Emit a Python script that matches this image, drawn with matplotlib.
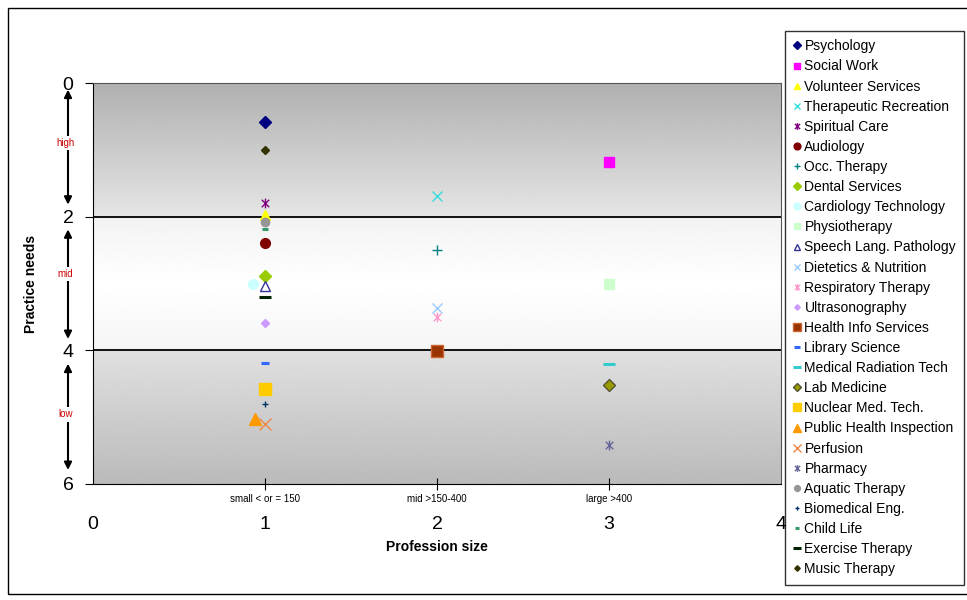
import numpy as np
import matplotlib
matplotlib.use("Agg")
import matplotlib.pyplot as plt
from matplotlib.path import Path
from matplotlib.patches import Rectangle

plt.rcParams['font.family'] = ['Liberation Sans', 'DejaVu Sans']

# --- data ---
professions = ['Psychology', 'Social Work', 'Volunteer Services', 'Therapeutic Recreation',
               'Spiritual Care', 'Audiology', 'Occ. Therapy', 'Dental Services',
               'Cardiology Technology', 'Physiotherapy', 'Speech Lang. Pathology',
               'Dietetics & Nutrition', 'Respiratory Therapy', 'Ultrasonography',
               'Health Info Services', 'Library Science', 'Medical Radiation Tech',
               'Lab Medicine', 'Nuclear Med. Tech.', 'Public Health Inspection',
               'Perfusion', 'Pharmacy', 'Aquatic Therapy', 'Biomedical Eng.',
               'Child Life', 'Exercise Therapy', 'Music Therapy']
size_x = [1, 3, 1, 2, 1, 1, 2, 1, 0.93, 3, 1, 2, 2, 1, 2, 1, 3, 3, 1, 0.94, 1, 3, 1, 1, 1, 1, 1]
needs_y = [0.58, 1.18, 1.98, 1.69, 1.8, 2.4, 2.5, 2.89, 3.0, 3.0, 3.04, 3.37, 3.5, 3.59,
           4.01, 4.19, 4.2, 4.52, 4.58, 5.03, 5.1, 5.42, 2.08, 4.81, 2.19, 3.2, 1.0]
size_labels = ['small < or = 150', 'mid >150-400', 'large >400']
need_levels = ['high', 'mid', 'low']

# excel-ish asterisk: x plus a vertical bar
star = Path([(-1, -1), (1, 1), (-1, 1), (1, -1), (0, -1.3), (0, 1.3)],
            [Path.MOVETO, Path.LINETO, Path.MOVETO, Path.LINETO, Path.MOVETO, Path.LINETO])

# marker, face colour, edge colour, size
styles = [
    ('D', '#000080', '#000080', 6),
    ('s', '#ff00ff', '#ff00ff', 7),
    ('^', '#ffff00', '#ffff00', 7),
    ('x', '#33dddd', '#33dddd', 7),
    (star, '#800080', '#800080', 7),
    ('o', '#800000', '#800000', 7),
    ('+', '#008080', '#008080', 7),
    ('D', '#99cc00', '#99cc00', 6),
    ('o', '#ccffff', '#ccffff', 7),
    ('s', '#ccffcc', '#ccffcc', 7),
    ('^', 'white', '#333399', 7),
    ('x', '#99ccff', '#99ccff', 7),
    (star, '#ff99cc', '#ff99cc', 7),
    ('D', '#cc99ff', '#cc99ff', 4),
    ('s', '#993300', '#cc6633', 9),
    ('_', '#3366ff', '#3366ff', 6),
    ('_', '#33cccc', '#33cccc', 9),
    ('D', '#999900', '#555533', 6),
    ('s', '#ffcc00', '#ffcc00', 8),
    ('^', '#ff9900', '#ff9900', 8),
    ('x', '#ee8844', '#ee8844', 8),
    (star, '#666699', '#666699', 7),
    ('o', '#969696', '#969696', 6),
    ('+', '#003366', '#003366', 5),
    ('_', '#339966', '#339966', 5),
    ('_', '#002200', '#002200', 8),
    ('D', '#333300', '#333300', 4),
]

fig = plt.figure(figsize=(9.67, 6), dpi=100)
ax = fig.add_axes([93 / 967, 1 - 484 / 600, 688 / 967, 401 / 600])

# gradient background: gray -> white -> gray, banded at 2 and 4
yy = np.linspace(0, 6, 600)
prof = np.interp(yy, [0, 1.999, 2.001, 3, 3.999, 4.001, 6],
                 [0.69, 0.90, 0.95, 1.0, 0.96, 0.88, 0.73])
ax.imshow(prof[:, None], cmap='gray', vmin=0, vmax=1, extent=[0, 4, 6, 0],
          aspect='auto', zorder=0, interpolation='bilinear')

for k in range(len(professions)):
    m, fc, ec, ms = styles[k]
    lw = 2.2 if m == '_' else 1.0
    ax.plot(size_x[k], needs_y[k], linestyle='none', marker=m, markersize=ms,
            markerfacecolor=fc, markeredgecolor=ec, markeredgewidth=lw,
            label=professions[k], zorder=3)

ax.axhline(2, color='black', lw=1.3, zorder=2)
ax.axhline(4, color='black', lw=1.3, zorder=2)

ax.set_xlim(0, 4)
ax.set_ylim(6, 0)
ax.set_yticks([0, 2, 4, 6])
ax.set_yticklabels(['0', '2', '4', '6'], fontsize=14)
ax.tick_params(axis='y', direction='out', length=6, pad=8)
ax.set_xticks([1, 2, 3])
ax.set_xticklabels(size_labels, fontsize=7)
ax.tick_params(axis='x', direction='inout', length=8, pad=3)
for s in ax.spines.values():
    s.set_color('#555555')
ax.spines['left'].set_color('black')
ax.spines['bottom'].set_color('black')

# big numeric x labels under the category labels
for v in range(5):
    ax.text(v, 6.6, str(v), ha='center', va='center', fontsize=14)
ax.text(2, 6.95, 'Profession size', ha='center', va='center',
        fontsize=10, fontweight='bold')
ax.set_ylabel('Practice needs', fontsize=10, fontweight='bold')
ax.yaxis.set_label_coords((38 - 93) / 688, 0.5)

# double arrows with need levels
trans = ax.get_yaxis_transform()
ax_x = (68 - 93) / 688
spans = [(0.1, 1.82), (2.19, 3.83), (4.2, 5.79)]
mids = [0.9, 2.86, 4.96]
for (a, b), mid, lab in zip(spans, mids, need_levels):
    ax.annotate('', xy=(ax_x, a), xytext=(ax_x, b), xycoords=trans, textcoords=trans,
                arrowprops=dict(arrowstyle='<|-|>', color='black', lw=1.5,
                                mutation_scale=11, shrinkA=0, shrinkB=0),
                annotation_clip=False)
    ax.text(ax_x - 0.004, mid, lab, transform=trans, ha='center', va='center',
            fontsize=7, color='#cc0000',
            bbox=dict(facecolor='white', edgecolor='none', pad=1.5), clip_on=False)

fig.patches.append(Rectangle((8 / 967, 6 / 600), 1.0, 1 - 14 / 600,
                             transform=fig.transFigure, fill=False,
                             edgecolor='black', lw=1.0))

leg = fig.legend(loc='upper left', bbox_to_anchor=(785 / 967, 1 - 31 / 600),
                 fontsize=10, frameon=True, fancybox=False, edgecolor='black',
                 handlelength=0.5, handletextpad=0.3, labelspacing=0.44,
                 borderpad=0.6, borderaxespad=0, markerscale=0.7)
leg.get_frame().set_linewidth(1.0)

fig.savefig('out.png', dpi=100)
